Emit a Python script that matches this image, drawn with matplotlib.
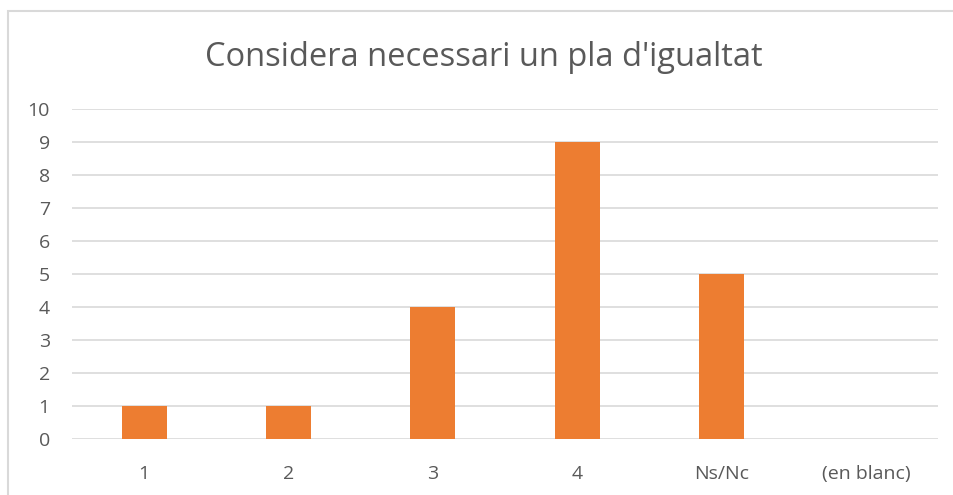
import matplotlib
matplotlib.use("Agg")
import matplotlib.pyplot as plt
from matplotlib.patches import Rectangle

categories = ["1", "2", "3", "4", "Ns/Nc", "(en blanc)"]
values = [1, 1, 4, 9, 5, 0]
yticks = list(range(0, 11))
title = "Considera necessari un pla d'igualtat"

plt.rcParams['font.family'] = ['Open Sans', 'DejaVu Sans']

W, H = 954, 495
fig = plt.figure(figsize=(W/100, H/100), dpi=100)
ax = fig.add_axes([72/W, 1-439/H, (938-72)/W, (439-109)/H])

x = list(range(len(categories)))
ax.bar(x, values, width=0.31, color="#ED7D31", zorder=3)
ax.set_xlim(-0.5, len(categories)-0.5)
ax.set_ylim(0, 10)
ax.set_yticks(yticks)
ax.set_xticks(x)
ax.set_xticklabels(categories)
ax.yaxis.grid(True, color="#D9D9D9", linewidth=1.2, zorder=0)
for s in ax.spines.values():
    s.set_visible(False)
ax.tick_params(axis='both', length=0, labelsize=14, labelcolor="#595959")
ax.tick_params(axis='y', pad=16)
ax.tick_params(axis='x', pad=19)

fig.text(484/W, 1-57/H, title, ha='center', va='center', fontsize=23.5, color="#595959")

fig.patches.append(Rectangle((8/W, -0.1), 1.2, 1-11/H+0.1, transform=fig.transFigure,
                             fill=False, edgecolor="#D9D9D9", linewidth=1.5))

fig.savefig("out.png", dpi=100)
